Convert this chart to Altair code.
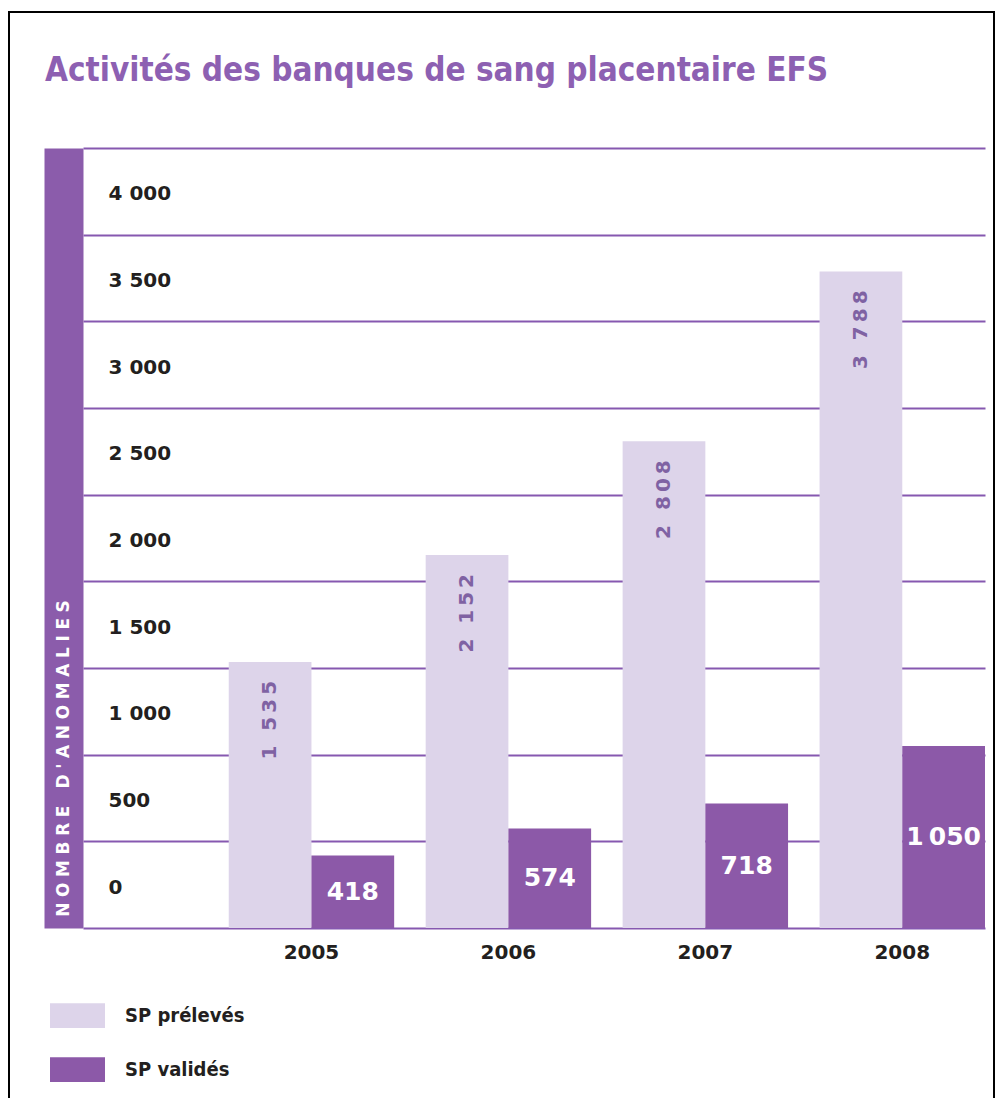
import altair as alt
import pandas as pd

# ---- data ----
years = ["2005", "2006", "2007", "2008"]
sp_preleves = [1535, 2152, 2808, 3788]
sp_valides = [418, 574, 718, 1050]
series_names = ["SP prélevés", "SP validés"]
y_ticks = [0, 500, 1000, 1500, 2000, 2500, 3000, 3500, 4000, 4500]

TITLE_TEXT = "Activités des banques de sang placentaire EFS"
Y_TITLE = "NOMBRE D'ANOMALIES"

# ---- style ----
LIGHT = "#ddd4ea"
DARK = "#8c59a8"
GRID = "#8658b0"
BAND = "#8b5cab"
TITLE_C = "#8d60b2"
LABEL_LIGHT = "#7f62a3"
INK = "#231f20"
NARROW = "DejaVu Sans Condensed, Liberation Sans Narrow, Open Sans, sans-serif"
WIDE = "DejaVu Sans, sans-serif"


def fr(v):
    return f"{v:,}".replace(",", " ")


rows = []
for yr, a, b in zip(years, sp_preleves, sp_valides):
    rows.append({"annee": yr, "serie": series_names[0], "valeur": a,
                 "label": "\u2009".join(fr(a))})
    rows.append({"annee": yr, "serie": series_names[1], "valeur": b,
                 "label": fr(b).replace(" ", "\u2009")})
df = pd.DataFrame(rows)

x_scale = alt.Scale(paddingInner=0.16, paddingOuter=0.37, align=1)
xo_scale = alt.Scale(paddingInner=0, paddingOuter=0)
y_scale = alt.Scale(domain=[0, 4500], nice=False, zero=True)

x_axis = alt.Axis(title=None, domain=False, ticks=False, grid=False, labelAngle=0,
                  labelFont=WIDE, labelFontSize=20, labelFontWeight="bold",
                  labelColor=INK, labelPadding=14, labelBaseline="top")

y_axis = alt.Axis(
    values=y_ticks, title="\u2004".join(Y_TITLE),
    grid=True, gridColor=GRID, gridWidth=1.8, gridOpacity=1,
    domain=True, domainColor=BAND, domainWidth=39, offset=19.5,
    ticks=False, tickSize=0,
    labelAlign="left", labelBaseline="middle", labelPadding=-44.5, labelOffset=-41,
    labelExpr="datum.value >= 4500 ? '' : replace(format(datum.value, ','), ',', ' ')",
    labelFont=WIDE, labelFontSize=20, labelFontWeight="bold", labelColor=INK,
    labelFlush=False, labelOverlap=False,
    titleColor="white", titleAngle=270, titleX=0, titleY=610,
    titleAlign="center", titleBaseline="middle",
    titleFont=WIDE, titleFontSize=17, titleFontWeight="bold",
)

base = alt.Chart(df)

bars = base.mark_bar().encode(
    x=alt.X("annee:N", sort=years, scale=x_scale, axis=x_axis),
    xOffset=alt.XOffset("serie:N", sort=series_names, scale=xo_scale),
    y=alt.Y("valeur:Q", scale=y_scale, axis=y_axis),
    color=alt.Color(
        "serie:N", sort=series_names,
        scale=alt.Scale(domain=series_names, range=[LIGHT, DARK]),
        legend=alt.Legend(
            title=None, orient="none", legendX=-33, legendY=840, direction="vertical",
            symbolType="M-1,-0.45L1,-0.45L1,0.45L-1,0.45Z", symbolSize=3025,
            symbolStrokeWidth=0, symbolOpacity=1,
            labelFont=NARROW, labelFontSize=20, labelFontWeight="bold",
            labelColor=INK, labelOffset=20, rowPadding=14,
        ),
    ),
)

light_text = base.transform_filter(
    alt.datum.serie == series_names[0]
).mark_text(angle=270, align="right", baseline="middle", dx=-19,
            font=WIDE, fontSize=20, fontWeight="bold", color=LABEL_LIGHT).encode(
    x=alt.X("annee:N", sort=years, scale=x_scale),
    xOffset=alt.XOffset("serie:N", sort=series_names, scale=xo_scale),
    y=alt.Y("valeur:Q", scale=y_scale),
    text="label:N",
)

dark_text = base.transform_filter(
    alt.datum.serie == series_names[1]
).transform_calculate(mid="datum.valeur / 2").mark_text(
    align="center", baseline="middle", font=WIDE, fontSize=25,
    fontWeight="bold", color="white").encode(
    x=alt.X("annee:N", sort=years, scale=x_scale),
    xOffset=alt.XOffset("serie:N", sort=series_names, scale=xo_scale),
    y=alt.Y("mid:Q", scale=y_scale),
    text="label:N",
)

frame = alt.Chart(pd.DataFrame({"k": [0]})).mark_rect(
    fillOpacity=0, stroke="black", strokeWidth=2).encode(
    x=alt.value(-74), x2=alt.value(911), y=alt.value(-136), y2=alt.value(1000))

chart = alt.layer(bars, light_text, dark_text, frame).properties(
    width=902, height=780,
    padding={"left": 75, "top": 140, "right": 11, "bottom": 170},
    autosize=alt.AutoSizeParams(type="none"),
    title=alt.TitleParams(TITLE_TEXT, anchor="start", frame="group", dx=-38,
                          offset=-103, baseline="alphabetic", font=NARROW,
                          fontSize=33, fontWeight="bold", color=TITLE_C),
    background="white",
).configure_view(stroke=None)

chart.save("out.html", embed_options={"renderer": "svg", "actions": False})
